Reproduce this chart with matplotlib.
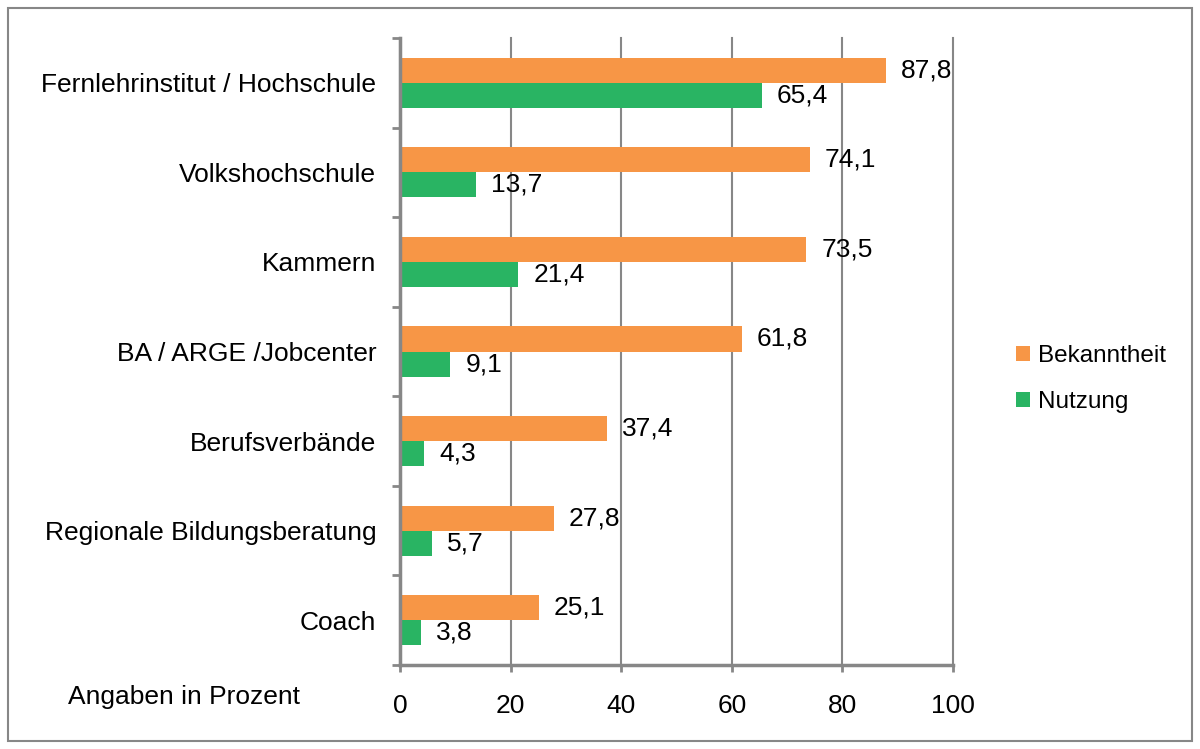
import numpy as np
import matplotlib.pyplot as plt
from matplotlib.patches import Rectangle

categories = ["Fernlehrinstitut / Hochschule", "Volkshochschule", "Kammern",
              "BA / ARGE /Jobcenter", "Berufsverbände",
              "Regionale Bildungsberatung", "Coach"]
bekanntheit = [87.8, 74.1, 73.5, 61.8, 37.4, 27.8, 25.1]
nutzung = [65.4, 13.7, 21.4, 9.1, 4.3, 5.7, 3.8]
xticks = [0, 20, 40, 60, 80, 100]

orange = "#F79646"
green = "#29B463"
gray = "#878787"
fs = 19

plt.rcParams['font.family'] = ['Liberation Sans', 'DejaVu Sans']

fig = plt.figure(figsize=(12, 7.49), dpi=100)
ax = fig.add_axes([400 / 1200, 1 - 665 / 749, 553 / 1200, 627 / 749])

y = np.arange(len(categories))
h = 0.28
ax.barh(y - h / 2, bekanntheit, height=h, color=orange, label="Bekanntheit", zorder=3)
ax.barh(y + h / 2, nutzung, height=h, color=green, label="Nutzung", zorder=3)

for yi, v in zip(y, bekanntheit):
    ax.annotate(f"{v:.1f}".replace(".", ","), (v, yi - h / 2), xytext=(11, 0),
                textcoords="offset points", va="center", ha="left", fontsize=fs, zorder=4)
for yi, v in zip(y, nutzung):
    ax.annotate(f"{v:.1f}".replace(".", ","), (v, yi + h / 2), xytext=(11, 0),
                textcoords="offset points", va="center", ha="left", fontsize=fs, zorder=4)

ax.set_xlim(0, 100)
ax.set_ylim(len(categories) - 0.5, -0.5)
ax.set_xticks(xticks)
ax.set_xticklabels([str(t) for t in xticks], fontsize=fs)
ax.tick_params(axis="x", length=5, width=2, color=gray, pad=16, direction="out")

ax.set_yticks(np.arange(-0.5, len(categories), 1.0))
ax.set_yticklabels([])
ax.tick_params(axis="y", which="major", length=6, width=2, color=gray, direction="out")
ax.set_yticks(y, minor=True)
ax.set_yticklabels(categories, minor=True, fontsize=fs)
ax.tick_params(axis="y", which="minor", length=0, pad=17)

ax.grid(axis="x", color=gray, linewidth=1.5, zorder=0)
for gl in ax.get_xgridlines():
    gl.set_clip_on(False)
for s in ["top", "right"]:
    ax.spines[s].set_visible(False)
for s in ["left", "bottom"]:
    ax.spines[s].set_color(gray)
    ax.spines[s].set_linewidth(2.5)
    ax.spines[s].set_zorder(5)

fig.text(68 / 1200, 1 - 697 / 749, "Angaben in Prozent", fontsize=fs, va="center", ha="left")

leg = ax.legend(loc="center left", bbox_to_anchor=(994 / 1200, 1 - 379 / 749),
                bbox_transform=fig.transFigure, frameon=False, fontsize=17.5,
                handlelength=0.6, handleheight=0.6, handletextpad=0.3, labelspacing=1.0)

fig.patches.append(Rectangle((8 / 1200, 8 / 749), 1184 / 1200, 733 / 749,
                             transform=fig.transFigure, fill=False,
                             edgecolor=gray, linewidth=1.5))

fig.savefig("out.png", dpi=100)
